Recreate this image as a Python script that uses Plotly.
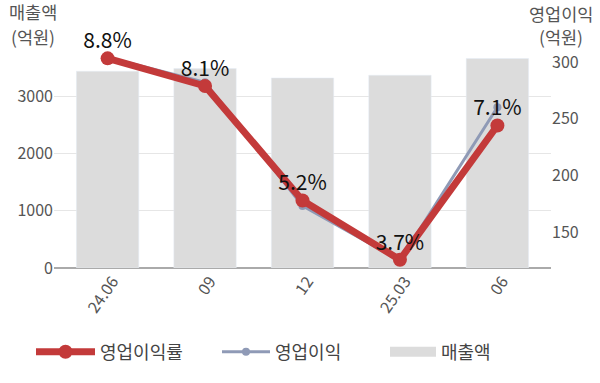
import plotly.graph_objects as go

categories = ["24.06", "09", "12", "25.03", "06"]
revenue = [3437, 3484, 3319, 3367, 3660]          # 매출액 (억원)
op_profit = [304, 282, 173, 125, 260]             # 영업이익 (억원)
op_margin = [8.8, 8.1, 5.2, 3.7, 7.1]             # 영업이익률 (%)
margin_labels = [f"{v}%" for v in op_margin]

FONT = "Noto Sans CJK KR, Noto Sans, sans-serif"
RED = "#c33a3a"
GRAY_LINE = "#8f9ab6"
BAR = "#dcdcdc"

fig = go.Figure()
fig.add_trace(go.Bar(
    x=categories, y=revenue, name="매출액", marker_color=BAR,
    width=0.64, yaxis="y", showlegend=False,
))
fig.add_trace(go.Scatter(
    x=categories, y=op_profit, name="영업이익", mode="lines+markers",
    line=dict(color=GRAY_LINE, width=3), marker=dict(size=8, color=GRAY_LINE),
    yaxis="y2", legend="legend2",
))
fig.add_trace(go.Scatter(
    x=categories, y=op_margin, name="영업이익률", mode="lines+markers",
    line=dict(color=RED, width=7), marker=dict(size=14, color=RED),
    yaxis="y3", legend="legend",
))
# data labels for margin
fig.add_trace(go.Scatter(
    x=categories, y=op_margin, mode="markers+text", text=margin_labels,
    marker=dict(size=6, color="rgba(0,0,0,0)"),
    textposition="top center", textfont=dict(size=21, color="#111", family=FONT),
    yaxis="y3", showlegend=False, cliponaxis=False, hoverinfo="skip",
))
# legend swatch for the revenue bars (wide gray box)
fig.add_trace(go.Scatter(
    x=[None], y=[None], name="매출액", mode="lines",
    line=dict(color=BAR, width=14), legend="legend3",
))

def leg(xpix, iw):
    return dict(orientation="h", x=xpix / 600, xref="container", xanchor="left",
                y=1 - 352 / 383, yref="container", yanchor="middle",
                font=dict(size=18, color="#444"), itemwidth=iw,
                bgcolor="rgba(0,0,0,0)")

fig.update_layout(
    width=600, height=383,
    margin=dict(l=54, r=49, t=39, b=115, autoexpand=False),
    paper_bgcolor="white", plot_bgcolor="white",
    font=dict(family=FONT, size=16, color="#555"),
    showlegend=True,
    legend=leg(31, 59),
    legend2=leg(217, 48),
    legend3=leg(385, 46),
    xaxis=dict(range=[-0.55, 4.55], tickangle=-55, showgrid=False, automargin=False,
               showline=False, ticks="", ticklabelshift=5,
               tickfont=dict(size=16, color="#555")),
    yaxis=dict(range=[0, 4000], tickvals=[0, 1000, 2000, 3000], automargin=False,
               showgrid=True, gridcolor="#e6e6e6", gridwidth=1,
               zeroline=True, zerolinecolor="#aaaaaa", zerolinewidth=1.5,
               ticks="", tickfont=dict(size=16, color="#555")),
    yaxis2=dict(range=[118.3, 320.2], tickvals=[150, 200, 250, 300], automargin=False,
                overlaying="y", side="right", showgrid=False, zeroline=False,
                ticks="", tickfont=dict(size=16, color="#555")),
    yaxis3=dict(range=[3.49, 9.29], overlaying="y", visible=False, automargin=False),
)

titles = [("매출액", 0, -21, 28), ("(억원)", 0, -21, 3),
          ("영업이익", 1, 10, 26), ("(억원)", 1, 10, 3)]
for txt, xp, xs, ys in titles:
    fig.add_annotation(text=txt, x=xp, y=1, xref="paper", yref="paper",
                       xshift=xs, yshift=ys, xanchor="center", yanchor="middle",
                       showarrow=False, font=dict(size=17.5, color="#555"))

fig.write_html("out.html", post_script="document.body.style.margin='0px';",
               config={"displayModeBar": False})
